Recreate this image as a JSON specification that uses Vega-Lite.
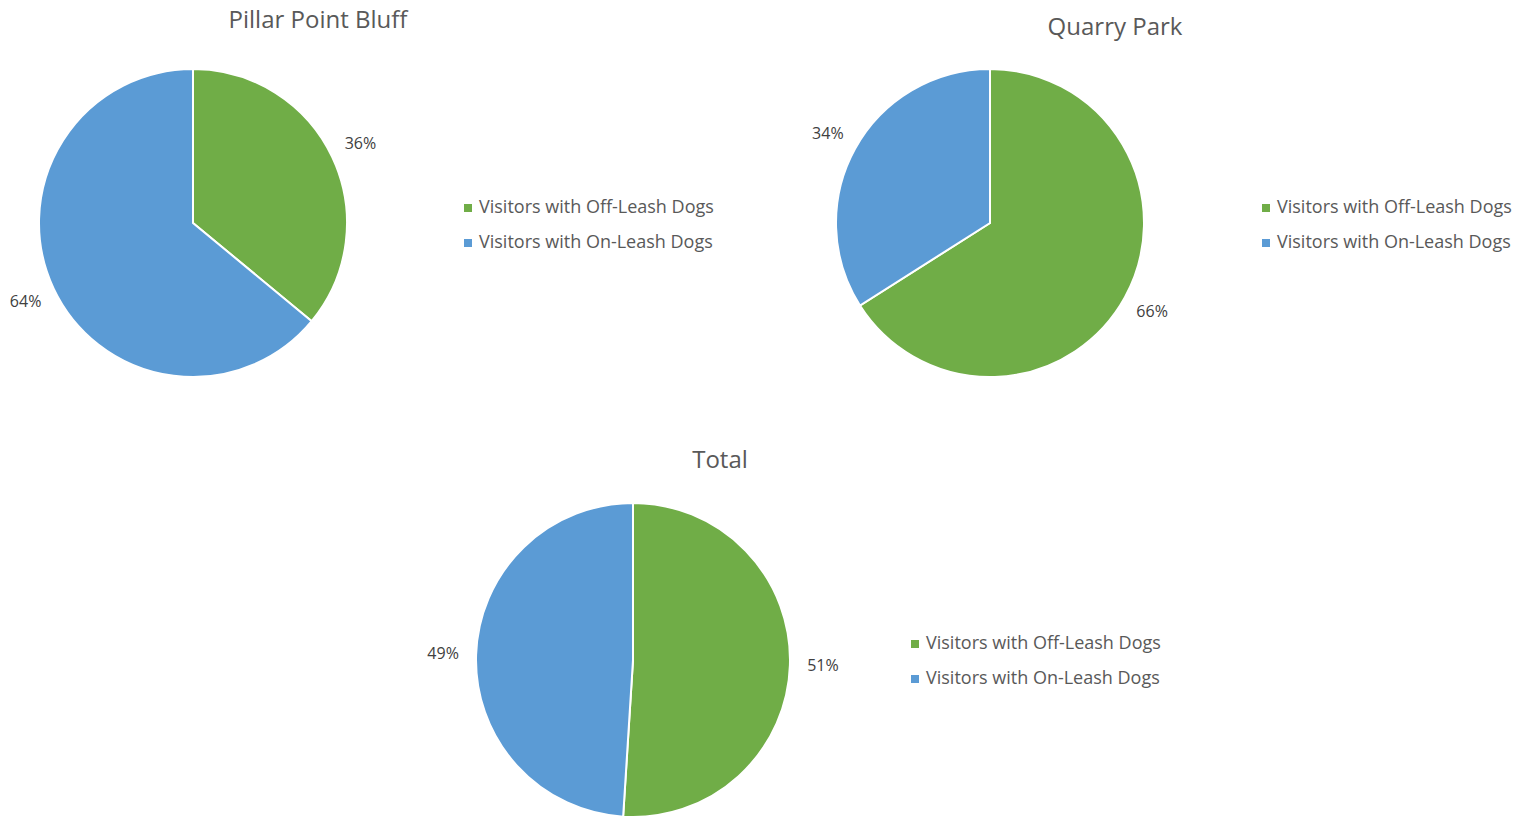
{
  "$schema": "https://vega.github.io/schema/vega-lite/v6.json",
  "padding": {"left": 0, "top": 9, "right": 0, "bottom": 0},
  "background": "white",
  "config": {
    "font": "Open Sans",
    "view": {"stroke": null},
    "title": {"font": "Open Sans", "fontSize": 24, "fontWeight": "normal", "color": "#595959"},
    "legend": {"labelFont": "Open Sans", "labelFontSize": 18, "labelColor": "#595959", "symbolType": "square", "symbolSize": 64, "rowPadding": 17, "labelOffset": 2, "symbolStrokeWidth": 0, "labelLimit": 400, "orient": "none"}
  },
  "datasets": {
    "pies": [
      {"site": "Pillar Point Bluff", "category": "Visitors with Off-Leash Dogs", "share": 0.36},
      {"site": "Pillar Point Bluff", "category": "Visitors with On-Leash Dogs", "share": 0.64},
      {"site": "Quarry Park", "category": "Visitors with Off-Leash Dogs", "share": 0.66},
      {"site": "Quarry Park", "category": "Visitors with On-Leash Dogs", "share": 0.34},
      {"site": "Total", "category": "Visitors with Off-Leash Dogs", "share": 0.51},
      {"site": "Total", "category": "Visitors with On-Leash Dogs", "share": 0.49}
    ]
  },
  "spacing": 68,
  "resolve": {"scale": {"color": "independent", "theta": "independent"}, "legend": {"color": "independent"}},
  "vconcat": [
    {
      "bounds": "flush",
      "spacing": 411,
      "resolve": {"scale": {"color": "independent", "theta": "independent"}, "legend": {"color": "independent"}},
      "hconcat": [
        {
          "width": 386, "height": 310,
          "title": {"text": "Pillar Point Bluff", "dx": 125, "offset": 32},
          "data": {"name": "pies"},
          "transform": [{"filter": "datum.site === 'Pillar Point Bluff'"}],
          "encoding": {
            "theta": {"field": "share", "type": "quantitative", "stack": true},
            "order": {"field": "category", "sort": "ascending"},
            "color": {"field": "category", "type": "nominal", "scale": {"domain": ["Visitors with Off-Leash Dogs", "Visitors with On-Leash Dogs"], "range": ["#70AD47", "#5B9BD5"]}, "legend": {"title": null, "legendX": 459, "legendY": 131}}
          },
          "layer": [
            {"mark": {"type": "arc", "outerRadius": 154, "stroke": "white", "strokeWidth": 2}},
            {"mark": {"type": "text", "radius": 185, "fontSize": 16, "fill": "#404040"}, "encoding": {"text": {"field": "share", "type": "quantitative", "format": ".0%"}}}
          ]
        },
        {
          "width": 386, "height": 310,
          "title": {"text": "Quarry Park", "dx": 125, "offset": 25},
          "data": {"name": "pies"},
          "transform": [{"filter": "datum.site === 'Quarry Park'"}],
          "encoding": {
            "theta": {"field": "share", "type": "quantitative", "stack": true},
            "order": {"field": "category", "sort": "ascending"},
            "color": {"field": "category", "type": "nominal", "scale": {"domain": ["Visitors with Off-Leash Dogs", "Visitors with On-Leash Dogs"], "range": ["#70AD47", "#5B9BD5"]}, "legend": {"title": null, "legendX": 460, "legendY": 131}}
          },
          "layer": [
            {"mark": {"type": "arc", "outerRadius": 154, "stroke": "white", "strokeWidth": 2}},
            {"mark": {"type": "text", "radius": 185, "fontSize": 16, "fill": "#404040"}, "encoding": {"text": {"field": "share", "type": "quantitative", "format": ".0%"}}}
          ]
        }
      ]
    },
    {
      "width": 1266, "height": 314,
      "title": {"text": "Total", "offset": 26, "dx": 87},
      "data": {"name": "pies"},
      "transform": [{"filter": "datum.site === 'Total'"}],
      "encoding": {
        "theta": {"field": "share", "type": "quantitative", "stack": true},
        "order": {"field": "category", "sort": "ascending"},
        "color": {"field": "category", "type": "nominal", "scale": {"domain": ["Visitors with Off-Leash Dogs", "Visitors with On-Leash Dogs"], "range": ["#70AD47", "#5B9BD5"]}, "legend": {"title": null, "legendX": 906, "legendY": 132}}
      },
      "layer": [
        {"mark": {"type": "arc", "outerRadius": 157, "stroke": "white", "strokeWidth": 2}},
        {"mark": {"type": "text", "radius": 190, "fontSize": 16, "fill": "#404040"}, "encoding": {"text": {"field": "share", "type": "quantitative", "format": ".0%"}}}
      ]
    }
  ]
}
